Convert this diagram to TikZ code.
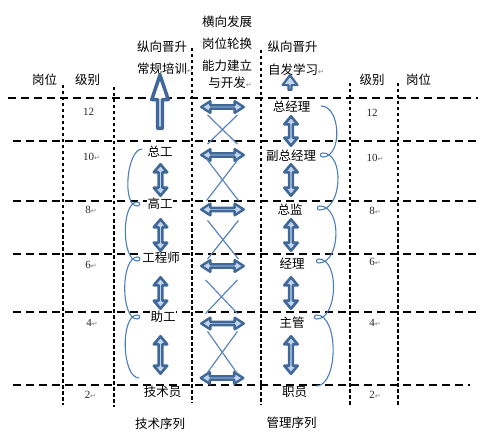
\documentclass[tikz,border=0pt]{standalone}
\usepackage{fontspec}
\setmainfont{Noto Sans CJK SC}
\newfontfamily\numfont{Liberation Serif}
\newfontfamily\markfont{DejaVu Sans}
\usetikzlibrary{calc,shapes.arrows}
\definecolor{arrowdark}{HTML}{3F6797}
\definecolor{arrowlight}{HTML}{C3D5EC}
\definecolor{crossblue}{HTML}{5B86BC}
\definecolor{arcblue}{HTML}{4A7DBA}
\newcommand{\retmark}{{\markfont\fontsize{7}{8}\selectfont\textcolor{gray}{↵}}}

\begin{document}
\begin{tikzpicture}[
  x=1pt, y=-1pt,
  rowline/.style={draw=black, line width=1.8pt, dash pattern=on 8pt off 5pt},
  colline/.style={draw=black, line width=1.8pt, dash pattern=on 3.5pt off 2.5pt},
  head/.style={font=\fontsize{12.5}{15}\selectfont, inner sep=0pt},
  post/.style={font=\fontsize{12.5}{15}\selectfont, fill=white, inner sep=0.5pt},
  lvl/.style={font=\numfont\fontsize{11}{12}\selectfont, text=black!85, inner sep=0pt},
  vdarrow/.style={double arrow, rotate=90, draw=arrowdark, fill=arrowlight, line width=2.6pt, line join=round, inner sep=0pt, minimum height=#1, minimum width=13.4pt, double arrow head extend=3.2pt, double arrow tip angle=80},
  vdarrow/.default=31.4pt,
  hdarrow/.style={double arrow, draw=arrowdark, fill=arrowlight, line width=2.4pt, line join=round, inner sep=0pt, minimum height=42.6pt, minimum width=11.6pt, double arrow head extend=3pt, double arrow tip angle=65},
  uparrow/.style={single arrow, rotate=90, draw=arrowdark, line join=round, inner sep=0pt, anchor=tail},
  crossline/.style={draw=crossblue, line width=1.2pt},
  chain/.style={draw=arcblue, line width=1.1pt}
]
  \useasboundingbox (0,0) rectangle (493,441);

  % Grid: rows
  \draw[rowline] (8,98) -- (478,98);
  \draw[rowline] (13,141) -- (478,141);
  \draw[rowline] (13,201) -- (478,201);
  \draw[rowline] (13,254) -- (478,254);
  \draw[rowline] (13,312) -- (478,312);
  \draw[rowline] (13,385) -- (470,385);

  % Grid: columns
  \draw[colline] (63,85) -- (63,405);
  \draw[colline] (114,87) -- (114,407);
  \draw[colline] (192,48) -- (192,403);
  \draw[colline] (261,50) -- (261,405);
  \draw[colline] (350,83) -- (350,405);
  \draw[colline] (398,83) -- (398,405);

  % Headings
  \node[head] (postl) at (44.5,80) {岗位};
  \node[head] (lvll) at (87.5,80) {级别};
  \node[head] (techup) at (162,47) {纵向晋升};
  \node[head] (techtrain) at (162,69) {常规培训\rlap{\retmark}};
  \node[head] (rot1) at (227,22) {横向发展};
  \node[head] (rot2) at (227,44) {岗位轮换};
  \node[head] (rot3) at (227,66) {能力建立};
  \node[head] (rot4) at (227,83) {与开发\rlap{\retmark}};
  \node[head] (mgmtup) at (292.5,47) {纵向晋升};
  \node[head] (mgmtself) at (293,70) {自发学习\rlap{\retmark}};
  \node[head] (lvlr) at (372,80) {级别};
  \node[head] (postr) at (418.5,80) {岗位};
  \node[head] (techseq) at (160,424) {技术序列};
  \node[head] (mgmtseq) at (291.5,423) {管理序列};

  % Levels
  \node[lvl] (l12) at (88.5,112) {12};
  \node[lvl] (l10) at (88.5,157) {10\rlap{\retmark}};
  \node[lvl] (l8) at (88,210) {8\rlap{\retmark}};
  \node[lvl] (l6) at (88,265) {6\rlap{\retmark}};
  \node[lvl] (l4) at (89,323) {4\rlap{\retmark}};
  \node[lvl] (l2) at (87.5,395) {2\rlap{\retmark}};
  \node[lvl] (r12) at (372,113) {12};
  \node[lvl] (r10) at (372,158) {10\rlap{\retmark}};
  \node[lvl] (r8) at (372,211) {8\rlap{\retmark}};
  \node[lvl] (r6) at (372,262) {6\rlap{\retmark}};
  \node[lvl] (r4) at (372,323) {4\rlap{\retmark}};
  \node[lvl] (r2) at (372,395) {2\rlap{\retmark}};

  % Technical posts
  \node[post] (zg) at (160,152) {总工};
  \node[post] (gg) at (160,204) {高工};
  \node[post] (gcs) at (161,258) {工程师};
  \node[post] (zhg) at (163,317) {助工};
  \node[post] (jsy) at (162.5,392) {技术员};

  % Management posts
  \node[post] (zjl) at (291.5,107) {总经理};
  \node[post] (fzjl) at (291,156) {副总经理};
  \node[post] (zjn) at (290,210) {总监};
  \node[post] (jl) at (292,264) {经理};
  \node[post] (zgn) at (292,323) {主管};
  \node[post] (zy) at (294.5,392) {职员};

  % Upward arrows
  \node[uparrow, fill=white, line width=3.5pt, minimum height=53.5pt, minimum width=16.5pt, single arrow head extend=4.5pt, single arrow tip angle=37] (techpromo) at (160,130.25) {};
  \node[uparrow, fill=arrowlight, line width=2.2pt, minimum height=14.8pt, minimum width=14.8pt, single arrow head extend=4pt, single arrow tip angle=73] (mgmtpromo) at (290,91) {};

  % Vertical double arrows
  \node[vdarrow] (v1) at (160.5,180) {};
  \node[vdarrow] (v2) at (160.5,235) {};
  \node[vdarrow] (v3) at (160.5,293) {};
  \node[vdarrow=37.4pt] (v4) at (160.5,355) {};
  \node[vdarrow=29.4pt] (w1) at (291,131) {};
  \node[vdarrow] (w2) at (291,180) {};
  \node[vdarrow] (w3) at (291,235) {};
  \node[vdarrow] (w4) at (291,293) {};
  \node[vdarrow=37.4pt] (w5) at (291,355) {};

  % Horizontal double arrows
  \node[hdarrow] (h1) at (222.5,107) {};
  \node[hdarrow] (h2) at (222.5,155) {};
  \node[hdarrow] (h3) at (222.5,209.5) {};
  \node[hdarrow] (h4) at (222.5,266) {};
  \node[hdarrow] (h5) at (222.5,323.5) {};
  \node[hdarrow] (h6) at (222,378) {};

  % Rotation crosses
  \draw[crossline] ($(h1.south)+(-15,5)$) -- ($(h2.north)+(15,-8)$);
  \draw[crossline] ($(h1.south)+(15,5)$) -- ($(h2.north)+(-15,-8)$);
  \draw[crossline] ($(h2.south)+(-16,1)$) -- ($(h3.north)+(16,-6)$);
  \draw[crossline] ($(h2.south)+(16,1)$) -- ($(h3.north)+(-16,-6)$);
  \draw[crossline] ($(h3.south)+(-15,8)$) -- ($(h4.north)+(16,-4)$);
  \draw[crossline] ($(h3.south)+(16,8)$) -- ($(h4.north)+(-15,-4)$);
  \draw[crossline] ($(h4.south)+(-17,11)$) -- ($(h5.north)+(15,-7)$);
  \draw[crossline] ($(h4.south)+(15,11)$) -- ($(h5.north)+(-17,-7)$);
  \draw[crossline] ($(h5.south)+(-15,5)$) -- ($(h6.north)+(15,-2)$);
  \draw[crossline] ($(h5.south)+(15,5)$) -- ($(h6.north)+(-15,-2)$);

  % Technical chain
  \draw[chain] ($(zg.west)+(-4.5,-3)$) to[out=180,in=180,looseness=0.7] ($(gg.west)+(-9.5,2)$)
    to[out=0,in=0,looseness=2] ++(0,-4)
    to[out=180,in=180,looseness=0.7] ($(gcs.west)+(-4,3)$)
    to[out=0,in=0,looseness=2] ++(0,-4)
    to[out=180,in=180,looseness=0.7] ($(zhg.west)+(-12.5,2)$)
    to[out=0,in=0,looseness=2] ++(0,-4)
    to[out=180,in=180,looseness=0.7] ($(jsy.west)+(-4,-14)$);

  % Management chain
  \draw[chain] ($(zjl.east)+(10,-1)$) to[out=0,in=0,looseness=1] ($(fzjl.east)+(6,1)$)
    to[out=180,in=180,looseness=2] ++(0,-4)
    to[out=0,in=0,looseness=1] ($(zjn.east)+(16.5,0)$)
    to[out=180,in=180,looseness=2] ++(0,-4)
    to[out=0,in=0,looseness=1] ($(jl.east)+(13.5,-1)$)
    to[out=180,in=180,looseness=2] ++(0,-4)
    to[out=0,in=0,looseness=0.9] ($(zgn.east)+(11.5,-4)$)
    to[out=180,in=180,looseness=2] ++(0,-4)
    to[out=0,in=0,looseness=0.8] ($(zy.east)+(8.5,-6)$);
\end{tikzpicture}
\end{document}
